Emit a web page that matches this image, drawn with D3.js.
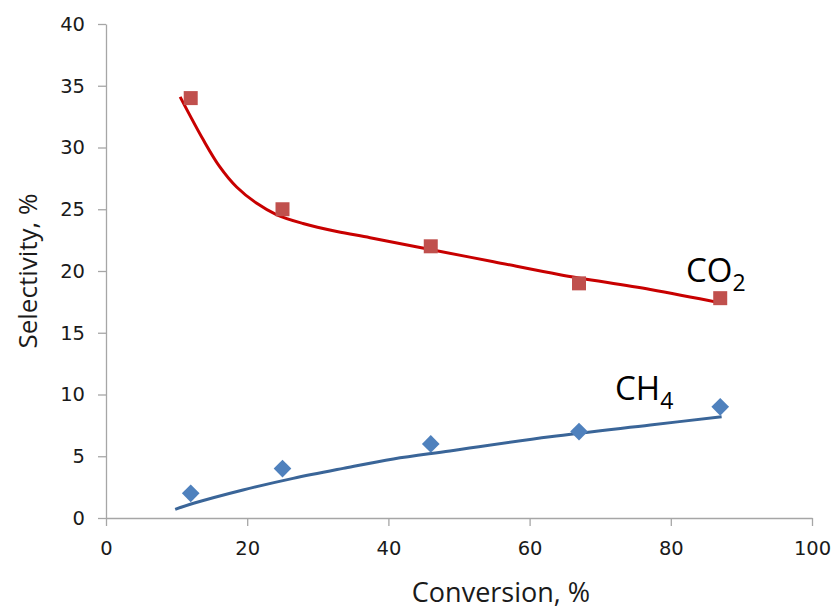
<!DOCTYPE html>
<html>
<head>
<meta charset="utf-8">
<script src="https://cdn.jsdelivr.net/npm/d3@7"></script>
<style>
  body { margin: 0; background: #fff; }
  .axis path, .axis line { stroke: #a6a6a6; stroke-width: 1.3; }
  .axis text { font-family: "DejaVu Sans", Verdana, sans-serif; font-size: 19.5px; fill: #1a1a1a; }
</style>
</head>
<body>
<div id="chart"></div>
<script>
// measured points
var conversion = [12, 25, 46, 67, 87];
var co2Sel = [34, 25, 22, 19, 17.8];
var ch4Sel = [2, 4, 6, 7, 9];

// trend lines
var co2TrendX = [10.5, 13.8, 16.1, 18.5, 21.3, 24.2, 27.9, 32.7, 37.4, 45.4, 54.9, 64.3, 77.1, 87.2];
var co2TrendY = [34.1, 30.6, 28.45, 26.8, 25.5, 24.55, 23.85, 23.2, 22.7, 21.8, 20.75, 19.7, 18.5, 17.4];
var ch4TrendX = [9.8, 12.4, 19.4, 26.5, 33.6, 40.7, 48.7, 62.9, 77.1, 87.2];
var ch4TrendY = [0.7, 1.19, 2.27, 3.21, 4.02, 4.78, 5.43, 6.58, 7.53, 8.2];

var xTicks = [0, 20, 40, 60, 80, 100];
var yTicks = [0, 5, 10, 15, 20, 25, 30, 35, 40];

var width = 833, height = 609;
var margin = {top: 24, right: 21, bottom: 91, left: 106};

var svg = d3.select("#chart").append("svg")
    .attr("width", width)
    .attr("height", height);

var x = d3.scaleLinear().domain([0, 100]).range([margin.left, width - margin.right]);
var y = d3.scaleLinear().domain([0, 40]).range([height - margin.bottom, margin.top]);

svg.append("g")
    .attr("class", "axis")
    .attr("transform", "translate(0," + (height - margin.bottom) + ")")
    .call(d3.axisBottom(x).tickValues(xTicks).tickSize(8).tickSizeOuter(0).tickPadding(15));

svg.append("g")
    .attr("class", "axis")
    .attr("transform", "translate(" + margin.left + ",0)")
    .call(d3.axisLeft(y).tickValues(yTicks).tickSize(8).tickSizeOuter(0).tickPadding(13));

// axis titles
svg.append("text")
    .attr("x", 501)
    .attr("y", 602)
    .attr("text-anchor", "middle")
    .style("font-family", "'Open Sans', sans-serif")
    .style("font-size", "27px")
    .style("fill", "#1a1a1a")
    .text("Conversion, %");

svg.append("text")
    .attr("transform", "translate(37," + 271 + ") rotate(-90)")
    .attr("text-anchor", "middle")
    .style("font-family", "'Open Sans', sans-serif")
    .style("font-size", "26px")
    .style("fill", "#1a1a1a")
    .text("Selectivity, %");

var line = d3.line().curve(d3.curveCatmullRom.alpha(0.5)).x(d => x(d[0])).y(d => y(d[1]));

svg.append("path")
    .datum(co2TrendX.map((v, i) => [v, co2TrendY[i]]))
    .attr("d", line)
    .attr("fill", "none")
    .attr("stroke", "#c80000")
    .attr("stroke-width", 3);

svg.append("path")
    .datum(ch4TrendX.map((v, i) => [v, ch4TrendY[i]]))
    .attr("d", line)
    .attr("fill", "none")
    .attr("stroke", "#3a6598")
    .attr("stroke-width", 3);

// markers
svg.selectAll(".sq")
    .data(conversion.map((v, i) => [v, co2Sel[i]]))
    .enter().append("path")
    .attr("class", "sq")
    .attr("transform", d => "translate(" + x(d[0]) + "," + y(d[1]) + ")")
    .attr("d", d3.symbol().type(d3.symbolSquare).size(14 * 14))
    .attr("fill", "#c0504d");

svg.selectAll(".dm")
    .data(conversion.map((v, i) => [v, ch4Sel[i]]))
    .enter().append("path")
    .attr("class", "dm")
    .attr("transform", d => "translate(" + x(d[0]) + "," + y(d[1]) + ") rotate(45)")
    .attr("d", d3.symbol().type(d3.symbolSquare).size(12.5 * 12.5))
    .attr("fill", "#4f81bd");

// series labels
function label(tx, ty, main, sub) {
    var t = svg.append("text")
        .attr("x", tx)
        .attr("y", ty)
        .style("font-family", "'Open Sans', sans-serif")
        .style("font-size", "33px")
        .style("fill", "#000");
    t.append("tspan").text(main);
    t.append("tspan").attr("dy", 9).style("font-size", "23px").text(sub);
}
label(686, 282, "CO", "2");
label(615, 400, "CH", "4");
</script>
</body>
</html>
